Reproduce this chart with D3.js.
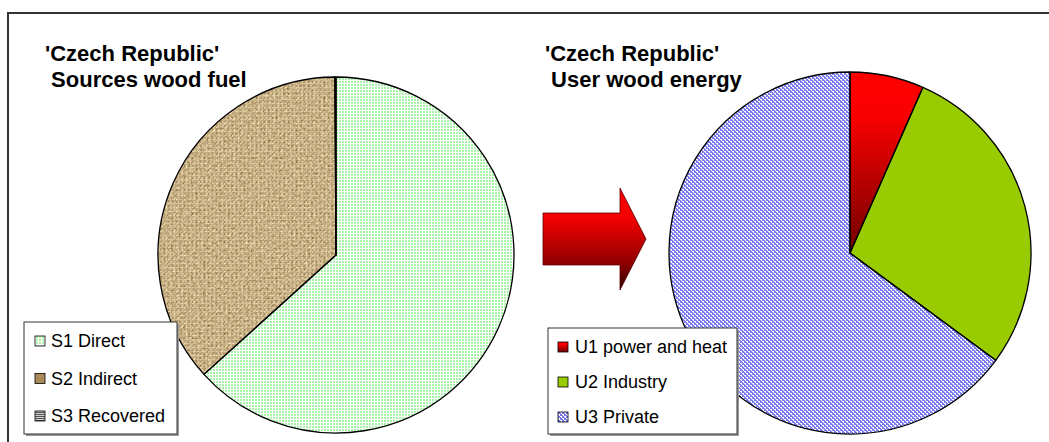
<!DOCTYPE html>
<html>
<head>
<meta charset="utf-8">
<script src="https://cdn.jsdelivr.net/npm/d3@7"></script>
<style>
  body { margin: 0; background: #fff; }
  svg { display: block; font-family: "Liberation Sans", Arial, sans-serif; }
</style>
</head>
<body>
<div id="chart"></div>
<script>
// data
const sourceLabels = ["S1 Direct", "S2 Indirect", "S3 Recovered"];
const sourceValues = [63.3, 36.6, 0.1];
const userLabels = ["U1 power and heat", "U2 Industry", "U3 Private"];
const userValues = [6.6, 28.5, 64.9];
const titleLeft = ["'Czech Republic'", " Sources wood fuel"];
const titleRight = ["'Czech Republic'", " User wood energy"];

const width = 1049;
const height = 442;

const svg = d3.select("#chart").append("svg")
  .attr("width", width)
  .attr("height", height);

const defs = svg.append("defs");

// light green dotted fill (S1)
const pGreen = defs.append("pattern").attr("id", "pGreen")
  .attr("width", 3).attr("height", 3).attr("patternUnits", "userSpaceOnUse");
pGreen.append("rect").attr("width", 3).attr("height", 3).attr("fill", "#ffffff");
pGreen.append("rect").attr("width", 2).attr("height", 2).attr("fill", "#a6f2a6");

// burlap texture (S2)
const fBurlap = defs.append("filter").attr("id", "fBurlap")
  .attr("x", 0).attr("y", 0).attr("width", 1).attr("height", 1);
fBurlap.append("feTurbulence").attr("type", "fractalNoise")
  .attr("baseFrequency", "0.4 0.4").attr("numOctaves", 3).attr("seed", 4).attr("result", "n");
fBurlap.append("feColorMatrix").attr("in", "n").attr("type", "matrix")
  .attr("values", "1.3 0 0 0 0.03  1.15 0 0 0 -0.03  0.9 0 0 0 -0.12  0 0 0 0 1");

const pBurlap = defs.append("pattern").attr("id", "pBurlap")
  .attr("width", 4).attr("height", 4).attr("patternUnits", "userSpaceOnUse");
pBurlap.append("rect").attr("width", 4).attr("height", 4).attr("fill", "#a88a5a");
pBurlap.append("rect").attr("width", 3).attr("height", 1).attr("fill", "#dcc79a");
pBurlap.append("rect").attr("x", 2).attr("y", 2).attr("width", 1).attr("height", 2).attr("fill", "#dcc79a");
pBurlap.append("rect").attr("x", 0).attr("y", 2).attr("width", 1).attr("height", 2).attr("fill", "#7a5e34");

// grey stripes (S3)
const pStripe = defs.append("pattern").attr("id", "pStripe")
  .attr("width", 2).attr("height", 2).attr("patternUnits", "userSpaceOnUse");
pStripe.append("rect").attr("width", 2).attr("height", 2).attr("fill", "#cfcfcf");
pStripe.append("rect").attr("width", 2).attr("height", 1).attr("fill", "#555");

// blue weave (U3)
const pBlue = defs.append("pattern").attr("id", "pBlue")
  .attr("width", 4).attr("height", 4).attr("patternUnits", "userSpaceOnUse");
pBlue.append("rect").attr("width", 4).attr("height", 4).attr("fill", "#7c7cf2");
pBlue.append("rect").attr("x", 0).attr("y", 0).attr("width", 2).attr("height", 1).attr("fill", "#fff");
pBlue.append("rect").attr("x", 1).attr("y", 1).attr("width", 1).attr("height", 1).attr("fill", "#fff");
pBlue.append("rect").attr("x", 2).attr("y", 2).attr("width", 2).attr("height", 1).attr("fill", "#fff");
pBlue.append("rect").attr("x", 3).attr("y", 3).attr("width", 1).attr("height", 1).attr("fill", "#fff");

// red gradient (U1)
const gRed = defs.append("linearGradient").attr("id", "gRed")
  .attr("x1", 0).attr("y1", 0).attr("x2", 0).attr("y2", 1);
gRed.append("stop").attr("offset", 0).attr("stop-color", "#ff0000");
gRed.append("stop").attr("offset", 0.25).attr("stop-color", "#f80000");
gRed.append("stop").attr("offset", 1).attr("stop-color", "#700000");

const gArrow = defs.append("linearGradient").attr("id", "gArrow")
  .attr("x1", 0).attr("y1", 0).attr("x2", 0).attr("y2", 1);
gArrow.append("stop").attr("offset", 0).attr("stop-color", "#ff0000");
gArrow.append("stop").attr("offset", 0.3).attr("stop-color", "#f20000");
gArrow.append("stop").attr("offset", 0.75).attr("stop-color", "#8c0000");
gArrow.append("stop").attr("offset", 1).attr("stop-color", "#2a0000");

const sourceFills = ["url(#pGreen)", "url(#pBurlap)", "url(#pStripe)"];
const userFills = ["url(#gRed)", "#99cc00", "url(#pBlue)"];

// frame (top and left edge)
svg.append("path")
  .attr("d", "M8," + height + " L8,13 L" + width + ",13")
  .attr("fill", "none").attr("stroke", "#333").attr("stroke-width", 2);

const pie = d3.pie().sort(null).value(d => d);

function drawPie(cx, cy, r, values, fills, withTexture) {
  const arc = d3.arc().innerRadius(0).outerRadius(r);
  const g = svg.append("g").attr("transform", "translate(" + cx + "," + cy + ")");
  const arcs = pie(values);
  arcs.forEach(function (d, i) {
    if (withTexture && i == 1) {
      // noise texture clipped to the slice
      const cid = "clip" + cx + "_" + i;
      defs.append("clipPath").attr("id", cid).append("path").attr("d", arc(d));
      g.append("rect").attr("x", -r).attr("y", -r).attr("width", 2 * r).attr("height", 2 * r)
        .attr("filter", "url(#fBurlap)").attr("clip-path", "url(#" + cid + ")");
      g.append("path").attr("d", arc(d)).attr("fill", fills[i]).attr("opacity", 0.4);
    } else {
      g.append("path").attr("d", arc(d)).attr("fill", fills[i]);
    }
  });
  g.selectAll("path.edge").data(arcs).enter().append("path")
    .attr("class", "edge")
    .attr("d", arc)
    .attr("fill", "none")
    .attr("stroke", "#000")
    .attr("stroke-width", 1.3)
    .attr("stroke-linejoin", "round");
}

drawPie(336, 255, 178, sourceValues, sourceFills, true);
drawPie(850, 253, 181, userValues, userFills, false);

// titles
function drawTitle(x, y, lines) {
  const t = svg.append("text").attr("x", x).attr("y", y)
    .attr("font-size", 22).attr("font-weight", "bold").attr("fill", "#000")
    .style("white-space", "pre");
  lines.forEach(function (l, i) {
    t.append("tspan").attr("x", x).attr("dy", i == 0 ? 0 : 26).text(l);
  });
}
drawTitle(45, 61, titleLeft);
drawTitle(545, 61, titleRight);

// arrow
svg.append("path")
  .attr("d", "M543,213 L620,213 L620,188 L646,239 L620,290 L620,265 L543,265 Z")
  .attr("fill", "url(#gArrow)")
  .attr("stroke", "#5a0000").attr("stroke-width", 0.8);

// legends
function drawLegend(x, y, w, h, labels, fills, textX, sw, firstBase, step) {
  const g = svg.append("g");
  g.append("rect").attr("x", x + 2).attr("y", y + 2).attr("width", w).attr("height", h).attr("fill", "#999");
  g.append("rect").attr("x", x).attr("y", y).attr("width", w).attr("height", h)
    .attr("fill", "#fff").attr("stroke", "#333").attr("stroke-width", 1);
  labels.forEach(function (l, i) {
    const by = firstBase + i * step;
    g.append("rect").attr("x", sw).attr("y", by - 11).attr("width", 10).attr("height", 10)
      .attr("fill", fills[i]).attr("stroke", "#000").attr("stroke-width", 0.8);
    g.append("text").attr("x", textX).attr("y", by)
      .attr("font-size", 18).attr("fill", "#000").text(l);
  });
}
drawLegend(24, 322, 153, 112, sourceLabels,
  ["url(#pGreen)", "#a88a5a", "url(#pStripe)"], 51, 35, 347, 37.5);
drawLegend(548, 328, 189, 106, userLabels, userFills, 575, 558, 353, 35);
</script>
</body>
</html>
